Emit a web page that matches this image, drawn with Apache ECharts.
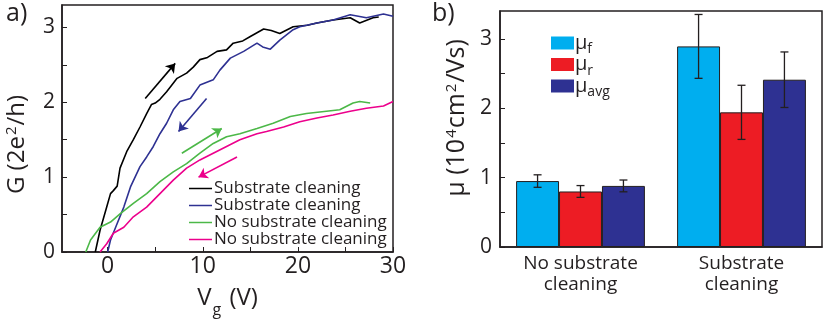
<!DOCTYPE html>
<html>
<head>
<meta charset="utf-8">
<script src="https://cdn.jsdelivr.net/npm/echarts@6/dist/echarts.min.js"></script>
<style>
  html, body { margin: 0; padding: 0; background: #fff; }
  #main { width: 830px; height: 327px; }
</style>
</head>
<body>
<div id="main"></div>
<script type="text/javascript">
	// a) G vs Vg, forward / reverse sweeps
	var blackFwd = [[-1.3,0],[-0.8,0.29],[-0.1,0.6],[0.3,0.78],[0.6,0.82],[1.0,0.88],[1.3,1.12],[2.0,1.34],[2.7,1.5],[3.4,1.67],[4.1,1.85],[4.6,1.97],[5.0,1.99],[5.5,2.04],[6.2,2.14],[7.3,2.32],[8.3,2.39],[9.0,2.47],[9.7,2.57],[10.5,2.6],[11.5,2.68],[12.5,2.7],[13.2,2.79],[14.2,2.82],[15.0,2.88],[16.4,2.98],[17.2,2.96],[18.1,2.92],[19.5,3.01],[21,3.03],[22,3.06],[23.7,3.1],[25.5,3.13],[26.5,3.06],[27.9,3.13],[28.5,3.14]];
	var blueRev = [[0,0],[0.3,0.16],[1.0,0.38],[1.7,0.6],[2.4,0.87],[3.4,1.14],[4.1,1.27],[4.8,1.41],[5.5,1.58],[6.2,1.72],[6.9,1.9],[7.6,2.01],[8.7,2.05],[9.7,2.23],[11.1,2.3],[11.8,2.43],[12.9,2.59],[14.3,2.68],[15.7,2.79],[16.3,2.74],[17.1,2.71],[18.1,2.83],[19.5,2.97],[20.2,3.01],[22,3.06],[23.7,3.1],[25.5,3.17],[27.2,3.13],[29,3.18],[30,3.15]];
	var greenFwd = [[-2.3,0],[-1.8,0.16],[-0.8,0.33],[0.3,0.4],[1.3,0.51],[2.7,0.65],[4.1,0.78],[5.5,0.94],[6.9,1.07],[8.3,1.18],[9.7,1.32],[11.1,1.45],[12.5,1.54],[13.9,1.58],[15.7,1.65],[17.4,1.72],[19.2,1.81],[20.9,1.85],[23,1.88],[24.4,1.9],[25.8,1.99],[26.5,2.01],[27.6,1.99]];
	var pinkRev = [[-0.8,0],[-0.1,0.11],[0.6,0.25],[1.7,0.33],[2.7,0.47],[4.1,0.6],[5.5,0.78],[6.9,0.96],[8.3,1.12],[9.7,1.23],[11.1,1.32],[12.5,1.41],[13.9,1.5],[15.7,1.58],[16.7,1.61],[18.5,1.67],[20.2,1.74],[22,1.79],[23.7,1.83],[25.5,1.88],[27.2,1.92],[29,1.95],[30,2.01]];

	// sweep direction arrows [start, end]
	var arrowBlack = [[3.95,2.05],[7.1,2.52]];
	var arrowBlue = [[10.4,2.05],[7.45,1.61]];
	var arrowGreen = [[7.8,1.32],[12.0,1.65]];
	var arrowPink = [[13.6,1.27],[9.55,1.0]];

	var lineNames = ['sc-f', 'sc-r', 'nsc-f', 'nsc-r'];
	var lineLabels = ['Substrate cleaning', 'Substrate cleaning', 'No substrate cleaning', 'No substrate cleaning'];
	var lineColors = ['#000000', '#2e3192', '#4cb848', '#ec008c'];

	var gTicks = [0, 0.5, 1, 1.5, 2, 2.5, 3];
	var gLabels = [0, 1, 2, 3];
	var vTicks = [0, 5, 10, 15, 20, 25, 30];
	var vLabels = [0, 10, 20, 30];

	// b) mobility
	var categories = ['No substrate\ncleaning', 'Substrate\ncleaning'];
	var muF = [0.95, 2.89];
	var muFErr = [0.09, 0.46];
	var muR = [0.80, 1.94];
	var muRErr = [0.085, 0.39];
	var muAvg = [0.88, 2.41];
	var muAvgErr = [0.085, 0.40];
	var muNames = ['μf', 'μr', 'μavg'];
	var muSubs = ['f', 'r', 'avg'];
	var muColors = ['#00aeef', '#ed1c24', '#2e3192'];
	var muTicks = [0, 0.5, 1, 1.5, 2, 2.5, 3];
	var muLabels = [0, 1, 2, 3];

	var ink = '#231f20';
	var font = 'Open Sans';
	var myChart = echarts.init(document.getElementById('main'));

	function lineSeries(i, data, arrow) {
		return {
			name: lineNames[i],
			type: 'line',
			xAxisIndex: 0,
			yAxisIndex: 0,
			data: data,
			symbol: 'none',
			lineStyle: { color: lineColors[i], width: 1.6 },
			itemStyle: { color: lineColors[i] },
			markLine: {
				silent: true,
				symbol: ['none', 'arrow'],
				symbolSize: 9,
				label: { show: false },
				lineStyle: { color: lineColors[i], width: 1.6, type: 'solid' },
				data: [[{ coord: arrow[0] }, { coord: arrow[1] }]]
			}
		};
	}

	var errData = [];
	[[muF, muFErr], [muR, muRErr], [muAvg, muAvgErr]].forEach(function (s, k) {
		for (var c = 0; c < categories.length; c++) {
			errData.push([c, s[0][c] - s[1][c], s[0][c] + s[1][c], k]);
		}
	});

	var option = {
		animation: false,
		textStyle: { fontFamily: font, color: ink },
		graphic: [
			{ type: 'text', left: 6, top: 1, style: { text: 'a)', font: '25px "Open Sans"', fill: ink } },
			{ type: 'text', left: 432, top: 1, style: { text: 'b)', font: '25px "Open Sans"', fill: ink } }
		],
		grid: [
			{ left: 62, top: 5, width: 331, height: 247, show: true, borderColor: ink, borderWidth: 1.5 },
			{ left: 500, top: 11, width: 322, height: 236, show: true, borderColor: ink, borderWidth: 1.5 }
		],
		legend: [
			{
				data: lineNames,
				orient: 'vertical',
				left: 184,
				top: 175,
				icon: 'rect',
				itemWidth: 23,
				itemHeight: 1.5,
				itemGap: 0,
				formatter: function (n) { return lineLabels[lineNames.indexOf(n)]; },
				textStyle: { fontSize: 17, lineHeight: 15, color: ink, padding: [0, 0, 0, -3] }
			},
			{
				data: muNames,
				orient: 'vertical',
				left: 546,
				top: 28,
				icon: 'rect',
				itemWidth: 23,
				itemHeight: 13,
				itemGap: -2,
				itemStyle: { borderWidth: 0 },
				formatter: function (n) { return '{m|μ}{s|' + muSubs[muNames.indexOf(n)] + '}'; },
				textStyle: {
					padding: [0, 0, 0, -4],
					rich: {
						m: { fontSize: 20, color: ink, lineHeight: 17, verticalAlign: 'middle' },
						s: { fontSize: 14, color: ink, lineHeight: 17, verticalAlign: 'bottom', padding: [0, 0, -5, 0] }
					}
				}
			}
		],
		xAxis: [
			{
				type: 'value',
				gridIndex: 0,
				min: -4.8,
				max: 30,
				axisLine: { show: true, onZero: false, lineStyle: { color: ink, width: 1.5 } },
				axisTick: { show: true, inside: true, length: 5, customValues: vTicks, lineStyle: { color: ink } },
				axisLabel: { customValues: vLabels, fontSize: 23, color: ink, margin: 3 },
				splitLine: { show: false },
				name: '{n|V}{s|g}{n| (V)}',
				nameLocation: 'middle',
				nameGap: 31,
				nameTextStyle: {
					rich: {
						n: { fontSize: 24, color: ink, lineHeight: 30 },
						s: { fontSize: 16, color: ink, lineHeight: 30, verticalAlign: 'bottom', padding: [0, 2, -5, 1] }
					}
				}
			},
			{
				type: 'category',
				gridIndex: 1,
				data: categories,
				axisLine: { show: true, onZero: false, lineStyle: { color: ink, width: 1.5 } },
				axisTick: { show: false },
				axisLabel: { fontSize: 19, lineHeight: 21, color: ink, margin: 6 }
			}
		],
		yAxis: [
			{
				type: 'value',
				gridIndex: 0,
				min: 0,
				max: 3.3,
				axisLine: { show: true, onZero: false, lineStyle: { color: ink, width: 1.5 } },
				axisTick: { show: true, inside: true, length: 5, customValues: gTicks, lineStyle: { color: ink } },
				axisLabel: { customValues: gLabels, fontSize: 21, color: ink, margin: 7 },
				splitLine: { show: false },
				name: '{n|G (2e}{p|2}{n|/h)}',
				nameLocation: 'middle',
				nameGap: 30,
				nameTextStyle: {
					padding: [0, 32, 0, 0],
					rich: {
						n: { fontSize: 24, color: ink, lineHeight: 30 },
						p: { fontSize: 15, color: ink, lineHeight: 30, verticalAlign: 'top', padding: [2, 1, 0, 1] }
					}
				}
			},
			{
				type: 'value',
				gridIndex: 1,
				min: 0,
				max: 3.4,
				axisLine: { show: true, onZero: false, lineStyle: { color: ink, width: 1.5 } },
				axisTick: { show: true, inside: true, length: 5, customValues: muTicks, lineStyle: { color: ink } },
				axisLabel: { customValues: muLabels, fontSize: 21, color: ink, margin: 8 },
				splitLine: { show: false },
				name: '{n|μ (10}{p|4}{n|cm}{p|2}{n|/Vs)}',
				nameLocation: 'middle',
				nameGap: 28,
				nameTextStyle: {
					padding: [0, 0, 0, 22],
					rich: {
						n: { fontSize: 25, color: ink, lineHeight: 30 },
						p: { fontSize: 15, color: ink, lineHeight: 30, verticalAlign: 'top', padding: [2, 1, 0, 1] }
					}
				}
			}
		],
		series: [
			lineSeries(0, blackFwd, arrowBlack),
			lineSeries(1, blueRev, arrowBlue),
			lineSeries(2, greenFwd, arrowGreen),
			lineSeries(3, pinkRev, arrowPink),
			{
				name: muNames[0], type: 'bar', xAxisIndex: 1, yAxisIndex: 1, data: muF,
				barGap: '0%', barCategoryGap: '20%',
				itemStyle: { color: muColors[0], borderColor: ink, borderWidth: 1 }
			},
			{
				name: muNames[1], type: 'bar', xAxisIndex: 1, yAxisIndex: 1, data: muR,
				barGap: '0%', barCategoryGap: '20%',
				itemStyle: { color: muColors[1], borderColor: ink, borderWidth: 1 }
			},
			{
				name: muNames[2], type: 'bar', xAxisIndex: 1, yAxisIndex: 1, data: muAvg,
				barGap: '0%', barCategoryGap: '20%',
				itemStyle: { color: muColors[2], borderColor: ink, borderWidth: 1 }
			},
			{
				name: 'err',
				type: 'custom',
				xAxisIndex: 1,
				yAxisIndex: 1,
				z: 10,
				silent: true,
				encode: { x: 0, y: [1, 2] },
				data: errData,
				renderItem: function (params, api) {
					var c = api.value(0), lo = api.value(1), hi = api.value(2), k = api.value(3);
					var bw = api.size([1, 0])[0] * 0.8 / 3;
					var x = api.coord([c, 0])[0] + (k - 1) * bw;
					var yl = api.coord([c, lo])[1], yh = api.coord([c, hi])[1];
					var st = { stroke: ink, lineWidth: 1.3 };
					return {
						type: 'group',
						children: [
							{ type: 'line', shape: { x1: x, y1: yl, x2: x, y2: yh }, style: st },
							{ type: 'line', shape: { x1: x - 4, y1: yl, x2: x + 4, y2: yl }, style: st },
							{ type: 'line', shape: { x1: x - 4, y1: yh, x2: x + 4, y2: yh }, style: st }
						]
					};
				}
			}
		]
	};

	myChart.setOption(option);
</script>
</body>
</html>
